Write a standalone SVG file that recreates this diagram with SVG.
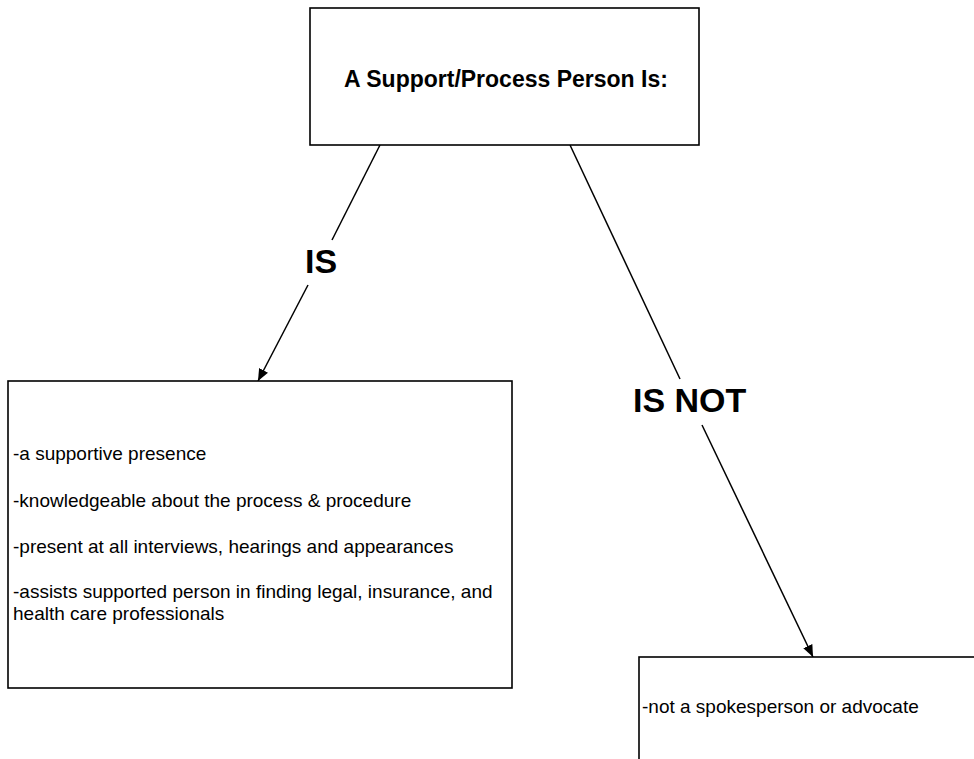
<svg xmlns="http://www.w3.org/2000/svg" width="974" height="759" viewBox="0 0 974 759">
<style>
.box{fill:#fff;stroke:#000;stroke-width:1.6}
.conn{stroke:#000;stroke-width:1.5;fill:none}
.t{font-family:"Liberation Sans",Arial,sans-serif;font-size:19px;fill:#000}
.b{font-family:"Liberation Sans",Arial,sans-serif;font-weight:bold;fill:#000}
</style>
<defs>
<marker id="arr" viewBox="0 0 12 10" refX="12" refY="5" markerWidth="12" markerHeight="10" markerUnits="userSpaceOnUse" orient="auto">
<path d="M0,0 L12,5 L0,10 z" fill="#000"/>
</marker>
</defs>
<rect width="974" height="759" fill="#fff"/>
<g id="connectors">
<line class="conn" x1="380" y1="145" x2="332" y2="240"/>
<line class="conn" x1="308" y1="285" x2="258" y2="381" marker-end="url(#arr)"/>
<text class="b" x="305" y="273" font-size="34">IS</text>
<line class="conn" x1="570" y1="145" x2="680" y2="379"/>
<line class="conn" x1="702" y1="425" x2="813" y2="657" marker-end="url(#arr)"/>
<text class="b" x="633" y="412" font-size="34">IS NOT</text>
</g>
<g id="node-top">
<rect class="box" x="310" y="8" width="389" height="137"/>
<text class="b" x="506" y="87" font-size="23" text-anchor="middle">A Support/Process Person Is:</text>
</g>
<g id="node-is">
<rect class="box" x="8" y="381" width="504" height="307"/>
<text class="t" x="13" y="460">-a supportive presence</text>
<text class="t" x="13" y="507">-knowledgeable about the process &amp; procedure</text>
<text class="t" x="13" y="553">-present at all interviews, hearings and appearances</text>
<text class="t" x="13" y="598">-assists supported person in finding legal, insurance, and</text>
<text class="t" x="13" y="620">health care professionals</text>
</g>
<g id="node-isnot">
<rect class="box" x="639" y="657" width="360" height="120"/>
<text class="t" x="642" y="713">-not a spokesperson or advocate</text>
</g>
</svg>
